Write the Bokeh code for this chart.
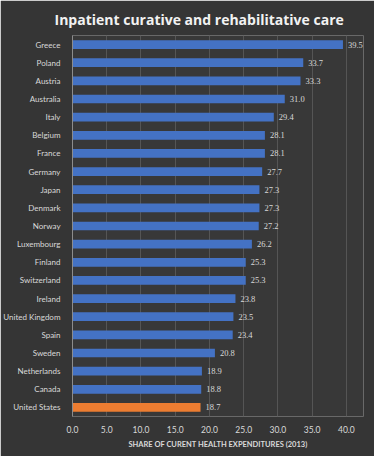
from bokeh.plotting import figure
from bokeh.models import ColumnDataSource, LabelSet, Range1d, FactorRange
from bokeh.embed import file_html
from bokeh.resources import INLINE

countries = ["Greece", "Poland", "Austria", "Australia", "Italy", "Belgium", "France",
             "Germany", "Japan", "Denmark", "Norway", "Luxembourg", "Finland",
             "Switzerland", "Ireland", "United Kingdom", "Spain", "Sweden",
             "Netherlands", "Canada", "United States"]
values = [39.5, 33.7, 33.3, 31.0, 29.4, 28.1, 28.1, 27.7, 27.3, 27.3, 27.2, 26.2,
          25.3, 25.3, 23.8, 23.5, 23.4, 20.8, 18.9, 18.8, 18.7]
x_ticks = [0, 5, 10, 15, 20, 25, 30, 35, 40]

colors = ["#ED7D31" if c == "United States" else "#4472C4" for c in countries]
labels = [f"{v:.1f}" for v in values]

src = ColumnDataSource(dict(y=countries, x=values, color=colors, label=labels))

p = figure(width=374, height=456, output_backend="svg", toolbar_location=None,
           y_range=FactorRange(factors=list(reversed(countries)), range_padding=0),
           x_range=Range1d(0, 42.5),
           min_border_left=67, min_border_right=11, min_border_top=32, min_border_bottom=40)

p.background_fill_color = "#383838"
p.border_fill_color = "#353535"
p.outline_line_color = None

p.title.text = "Inpatient curative and rehabilitative care"
p.title.text_color = "#f2f2f2"
p.title.text_font = "Open Sans"
p.title.text_font_size = "14px"
p.title.text_font_style = "bold"
p.title.align = "left"
p.title.offset = -18
p.title.standoff = 14

p.hbar(y="y", right="x", left=0, height=0.48, color="color", line_color=None, source=src)

lbl = LabelSet(x="x", y="y", text="label", source=src, x_offset=5, y_offset=0,
               text_baseline="middle", text_color="#d9d9d9", text_font_size="8.5px",
               text_font="Lato")
p.add_layout(lbl)

p.xaxis.ticker = x_ticks
p.xaxis.major_label_overrides = {t: f"{t:.1f}" for t in x_ticks}
p.xaxis.axis_line_color = None
p.xaxis.major_tick_line_color = None
p.xaxis.minor_tick_line_color = None
p.xaxis.major_label_text_color = "#d9d9d9"
p.xaxis.major_label_text_font = "Lato"
p.xaxis.major_label_text_font_size = "8.5px"
p.xaxis.major_label_standoff = 3
p.xaxis.axis_label = "SHARE OF CURENT HEALTH EXPENDITURES (2013)"
p.xaxis.axis_label_text_color = "#d9d9d9"
p.xaxis.axis_label_text_font = "Lato"
p.xaxis.axis_label_text_font_style = "bold"
p.xaxis.axis_label_text_font_size = "7.5px"
p.xaxis.axis_label_standoff = 4

p.yaxis.axis_line_color = "#8c8c8c"
p.yaxis.major_tick_line_color = None
p.yaxis.minor_tick_line_color = None
p.yaxis.major_label_text_color = "#d9d9d9"
p.yaxis.major_label_text_font = "Lato"
p.yaxis.major_label_text_font_size = "8px"
p.yaxis.major_label_standoff = 6

p.xgrid.grid_line_color = "#555555"
p.ygrid.grid_line_color = None

open("out.html", "w").write(file_html(p, INLINE))
